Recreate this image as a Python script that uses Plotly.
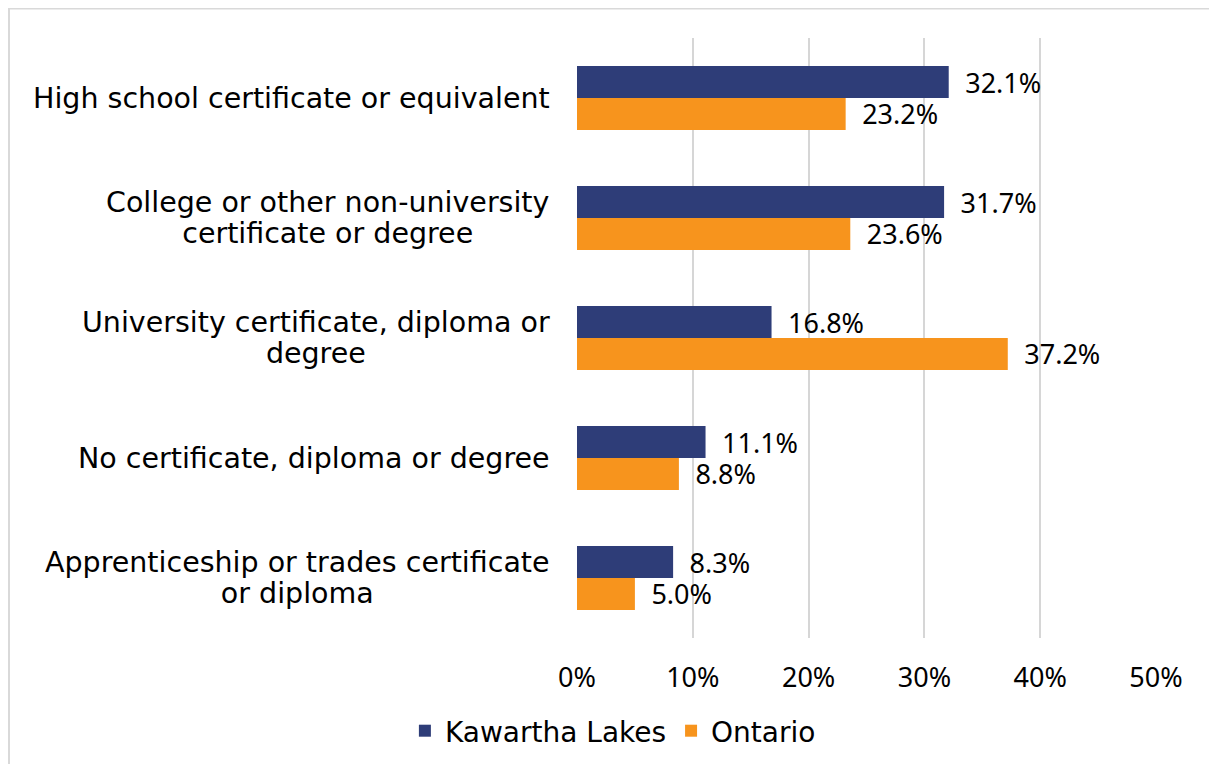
import plotly.graph_objects as go

# data
categories = [
    "High school certificate or equivalent",
    "College or other non-university<br>certificate or degree",
    "University certificate, diploma or<br>degree",
    "No certificate, diploma or degree",
    "Apprenticeship or trades certificate<br>or diploma",
]
kawartha = [32.1, 31.7, 16.8, 11.1, 8.3]
ontario = [23.2, 23.6, 37.2, 8.8, 5.0]
x_ticks = [0, 10, 20, 30, 40, 50]

text_font = "DejaVu Sans"
num_font = "Noto Sans"
navy = "#2E3D78"
orange = "#F7941D"

fig = go.Figure()
for name, vals, col in [("Kawartha Lakes", kawartha, navy), ("Ontario", ontario, orange)]:
    fig.add_trace(go.Bar(
        y=categories, x=vals, name=name, orientation="h",
        marker=dict(color=col, line=dict(width=0)),
        text=[f"\u2002{v:.1f}%" for v in vals], textposition="outside",
        constraintext="none",
        textfont=dict(family=num_font, size=27, color="#000000"), cliponaxis=False,
    ))

# centred multi-line category labels (small base size keeps line spacing tight)
for c in categories:
    lines = "<br>".join(f"<span style='font-size:28.5px'>{s}</span>" for s in c.split("<br>"))
    fig.add_annotation(
        x=-0.044, xref="paper", y=c, yref="y", text=lines, showarrow=False,
        xanchor="right", align="center",
        font=dict(family=text_font, size=24, color="#000000"),
    )

# light grey frame around the whole chart
fig.add_shape(type="rect", xref="paper", yref="paper",
              x0=-0.981, x1=1.103, y0=-0.25, y1=1.049,
              line=dict(color="#D9D9D9", width=2), layer="below")

fig.update_layout(
    width=1217, height=764,
    margin=dict(l=569, r=69, t=30, b=134),
    barmode="group", bargap=0.467, bargroupgap=0,
    plot_bgcolor="white", paper_bgcolor="white",
    font=dict(family=text_font, size=27, color="#000000"),
    showlegend=True,
    legend=dict(orientation="h", x=0.062, xanchor="center", y=-0.155, yanchor="middle",
                font=dict(family=text_font, size=28), traceorder="normal"),
)
fig.update_xaxes(
    range=[0, 50], tickvals=x_ticks, ticktext=[f"{t}%" for t in x_ticks],
    tickfont=dict(family=num_font, size=27),
    showgrid=True, gridcolor="#D6D6D6", gridwidth=2, zeroline=False,
    showline=False, ticks="", ticklabelstandoff=21,
)
fig.update_yaxes(
    autorange="reversed", showticklabels=False, showgrid=False,
    zeroline=False, showline=False,
)

fig.write_html("out.html")
